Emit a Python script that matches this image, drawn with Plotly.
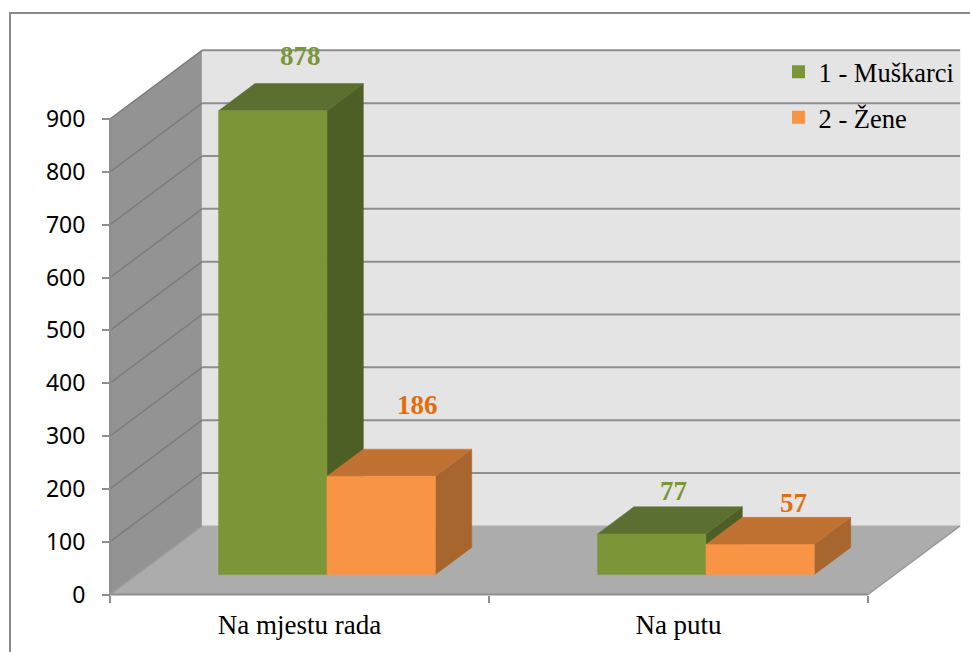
import plotly.graph_objects as go

categories = ["Na mjestu rada", "Na putu"]
series_names = ["1 - Muškarci", "2 - Žene"]
men = [878, 77]
women = [186, 57]
y_ticks = [0, 100, 200, 300, 400, 500, 600, 700, 800, 900]

W, H = 970, 652
X0_PX, X2_PX = 110, 868      # pixel columns of x = 0 and x = 2
Y0_PX, Y900_PX = 594.5, 119  # pixel rows of y = 0 and y = 900
DX, DY = 0.243, 130          # oblique depth of the chart box, in axis units
Z0, Z1 = 0.29, 0.685         # front and back of the bars along the depth
GAP, BAR = 0.216, 0.286      # category gap and bar width, in category units
GRID = "#8e8e8e"

top = y_ticks[-1]
right = len(categories)
ux = (X2_PX - X0_PX) / right
uy = (Y0_PX - Y900_PX) / top
x_range = [-X0_PX / ux, (W - X0_PX) / ux]
y_range = [-(H - Y0_PX) / uy, Y0_PX / uy]

def px(x, y, z=0):
    return x + z * DX, y + z * DY

def poly(points, color):
    xs, ys = zip(*points)
    return go.Scatter(x=list(xs) + [xs[0]], y=list(ys) + [ys[0]], mode="lines", fill="toself",
                      fillcolor=color, line=dict(color=color, width=0.5),
                      hoverinfo="skip", showlegend=False)

def seg(a, b, color=GRID, width=2):
    return go.Scatter(x=[a[0], b[0]], y=[a[1], b[1]], mode="lines", line=dict(color=color, width=width),
                      hoverinfo="skip", showlegend=False)

traces = []
traces.append(poly([px(0, 0), px(0, top), px(0, top, 1), px(0, 0, 1)], "#939393"))
traces.append(poly([px(0, 0, 1), px(0, top, 1), px(right, top, 1), px(right, 0, 1)], "#e4e4e4"))
traces.append(poly([px(0, 0), px(0, 0, 1), px(right, 0, 1), px(right, 0)], "#acacac"))
for v in y_ticks[1:]:
    traces.append(seg(px(0, v), px(0, v, 1), "#7c7c7c", 1.5))
    traces.append(seg(px(0, v, 1), px(right, v, 1)))
traces.append(seg(px(0, 0), px(0, top)))
traces.append(seg(px(0, 0), px(right, 0)))
traces.append(seg(px(right, 0), px(right, 0, 1), "#9a9a9a", 1.5))
traces.append(seg(px(0, 0), px(0, 0, 1), "#9a9a9a", 1.5))

styles = [("#7a9639", "#5b7030", "#4e5f26", "#7a9639"),
          ("#f89443", "#c07232", "#a7662d", "#e46c0a")]
annotations = []
# pixel shift of each value label relative to the top of its bar
label_shift = {(0, 0): (28, 55), (0, 1): (36, 71), (1, 0): (22, 43), (1, 1): (33, 41)}
for i in range(len(categories)):
    for j, vals in enumerate((men, women)):
        v = vals[i]
        x0 = i + GAP + j * BAR
        x1 = x0 + BAR
        front, topc, side, lab = styles[j]
        traces.append(poly([px(x1, 0, Z0), px(x1, v, Z0), px(x1, v, Z1), px(x1, 0, Z1)], side))
        traces.append(poly([px(x0, v, Z0), px(x0, v, Z1), px(x1, v, Z1), px(x1, v, Z0)], topc))
        traces.append(poly([px(x0, 0, Z0), px(x0, v, Z0), px(x1, v, Z0), px(x1, 0, Z0)], front))
        ax, ay = px((x0 + x1) / 2, v, Z0)
        sx, sy = label_shift[(i, j)]
        annotations.append(dict(x=ax, y=ay, text=f"<b>{v}</b>", showarrow=False, xshift=sx, yshift=sy,
                                font=dict(family="Liberation Serif", size=27, color=lab)))

for name, st in zip(series_names, styles):
    traces.append(go.Scatter(x=[None], y=[None], mode="markers", name=name, legendgroup=name,
                             marker=dict(symbol="square", size=13, color=st[0])))

fig = go.Figure(traces)
fig.update_layout(
    width=W, height=H, margin=dict(l=0, r=0, t=0, b=0, pad=0),
    paper_bgcolor="white", plot_bgcolor="rgba(0,0,0,0)",
    annotations=annotations,
    legend=dict(x=784.5 / W, y=1 - 48 / H, xanchor="left", yanchor="top", indentation=-6,
                bgcolor="rgba(0,0,0,0)", tracegroupgap=8,
                font=dict(family="Liberation Serif", size=26.5, color="#000000")),
    shapes=[dict(type="path", xref="paper", yref="paper", layer="below",
                 path=f"M {10 / W} 0 L {10 / W} {1 - 13 / H} L 1 {1 - 13 / H}",
                 line=dict(color="#8a8a8a", width=2))],
    xaxis=dict(range=x_range, anchor="free", position=1 - Y0_PX / H, tickmode="array",
               tickvals=[i + 0.5 for i in range(right)], ticktext=categories,
               ticks="", showgrid=False, zeroline=False, showline=False, automargin=False,
               ticklabelstandoff=11,
               tickfont=dict(family="Liberation Serif", size=27, color="#000000"),
               minor=dict(tickmode="array", tickvals=list(range(right + 1)), ticks="outside", ticklen=7,
                          tickwidth=2, tickcolor=GRID, showgrid=False)),
    yaxis=dict(range=y_range, anchor="free", position=X0_PX / W, tickmode="array", tickvals=y_ticks,
               ticks="outside", ticklen=8, tickwidth=2, tickcolor=GRID, showgrid=False, zeroline=False,
               showline=False, automargin=False, ticklabelstandoff=12,
               tickfont=dict(family="Noto Sans", size=23, color="#000000")),
)
fig.write_html("out.html", post_script="document.body.style.margin='0';",
               config=dict(displayModeBar=False))
